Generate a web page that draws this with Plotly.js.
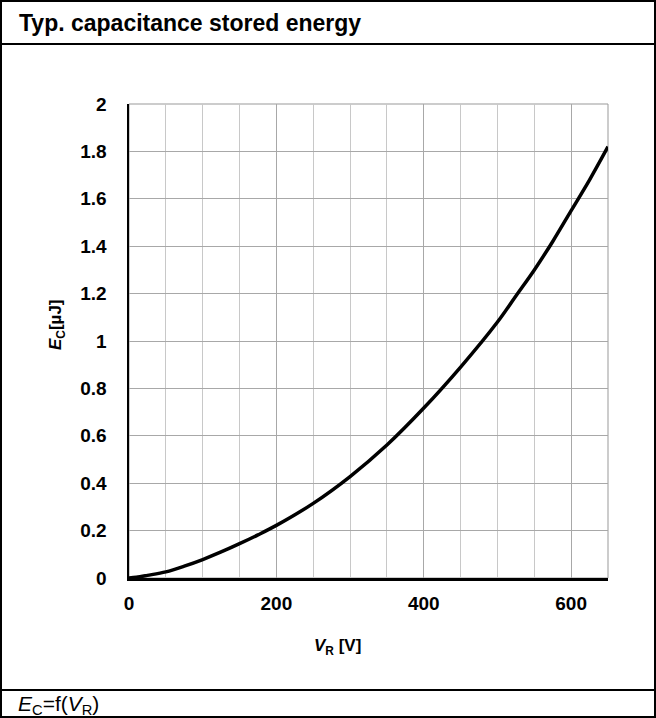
<!DOCTYPE html>
<html>
<head>
<meta charset="utf-8">
<script src="https://cdn.plot.ly/plotly-3.0.1.min.js"></script>
<style>html,body{margin:0;padding:0;background:#fff;}#chart{width:656px;height:718px;}</style>
</head>
<body>
<div id="chart"></div>
<script>
// Data
const voltageV = [0, 10, 25, 50, 75, 100, 125, 150, 175, 200, 250, 300, 350, 400, 450, 500, 525, 550, 575, 600, 625, 650];
const energyUJ = [0, 0.003, 0.011, 0.026, 0.05, 0.078, 0.11, 0.145, 0.182, 0.222, 0.315, 0.428, 0.561, 0.717, 0.89, 1.08, 1.19, 1.30, 1.42, 1.55, 1.68, 1.82];
const xTickVals = [0, 200, 400, 600];
const xTickText = ['0', '200', '400', '600'];
const yTickVals = [0, 0.2, 0.4, 0.6, 0.8, 1, 1.2, 1.4, 1.6, 1.8, 2];
const yTickText = ['0', '0.2', '0.4', '0.6', '0.8', '1', '1.2', '1.4', '1.6', '1.8', '2'];
const chartTitle = 'Typ. capacitance stored energy';
const xTitle = '<b><i>V</i><sub>R</sub> [V]</b>';
const yTitle = '<b><i>E</i><sub>C</sub>[µJ]</b>';
const caption = '<i>E</i><sub>C</sub>=f(<i>V</i><sub>R</sub>)';

const W = 656, H = 718;
const L = 129, R = 608, T = 104, B = 578;
const pw = R - L, ph = B - T;
const px = v => (v - L) / pw;
const py = v => (B - v) / ph;
const FONT = 'Liberation Sans, Arial, Helvetica, sans-serif';

const trace = {
  x: voltageV, y: energyUJ, type: 'scatter', mode: 'lines',
  line: {color: '#000', width: 3.5, shape: 'spline', smoothing: 1},
  hoverinfo: 'skip', cliponaxis: false
};

const layout = {
  width: W, height: H,
  margin: {l: L, r: W - R, t: T, b: H - B, pad: 0},
  paper_bgcolor: '#fff', plot_bgcolor: '#fff',
  showlegend: false,
  font: {family: FONT, color: '#000'},
  xaxis: {
    range: [0, 650], tickvals: xTickVals, ticktext: xTickText,
    showgrid: true, gridcolor: '#a8a8a8', gridwidth: 1,
    minor: {dtick: 50, tick0: 0, showgrid: true, gridcolor: '#c8c8c8', gridwidth: 1},
    showline: true, linecolor: '#000', linewidth: 2.5, zeroline: false,
    ticks: '', ticklabelstandoff: 7,
    tickfont: {family: FONT, size: 19, weight: 'bold', color: '#000'},
    fixedrange: true
  },
  yaxis: {
    range: [0, 2], tickvals: yTickVals, ticktext: yTickText,
    showgrid: true, gridcolor: '#a8a8a8', gridwidth: 1,
    showline: true, linecolor: '#000', linewidth: 2.5, zeroline: false,
    ticks: '', ticklabelstandoff: 16,
    tickfont: {family: FONT, size: 19, weight: 'bold', color: '#000'},
    fixedrange: true
  },
  shapes: [
    {type: 'rect', xref: 'paper', yref: 'paper', x0: 0, x1: 1, y0: 0, y1: 1,
     line: {color: '#999', width: 1}, layer: 'below'},
    {type: 'rect', xref: 'paper', yref: 'paper', x0: px(1), x1: px(655), y0: py(1), y1: py(717),
     line: {color: '#000', width: 2}},
    {type: 'line', xref: 'paper', yref: 'paper', x0: px(1), x1: px(655), y0: py(44), y1: py(44),
     line: {color: '#000', width: 2}},
    {type: 'line', xref: 'paper', yref: 'paper', x0: px(1), x1: px(655), y0: py(690), y1: py(690),
     line: {color: '#000', width: 2}}
  ],
  annotations: [
    {text: '<b>' + chartTitle + '</b>', xref: 'paper', yref: 'paper', x: px(17), y: py(23),
     xanchor: 'left', yanchor: 'middle', showarrow: false,
     font: {family: FONT, size: 23, color: '#000'}},
    {text: xTitle, xref: 'paper', yref: 'paper', x: px(337), y: py(647),
     xanchor: 'center', yanchor: 'middle', showarrow: false,
     font: {family: FONT, size: 17, color: '#000'}},
    {text: yTitle, xref: 'paper', yref: 'paper', x: px(57), y: py(325),
     xanchor: 'center', yanchor: 'middle', textangle: -90, showarrow: false,
     font: {family: FONT, size: 17, color: '#000'}},
    {text: caption, xref: 'paper', yref: 'paper', x: px(16), y: py(705),
     xanchor: 'left', yanchor: 'middle', showarrow: false,
     font: {family: FONT, size: 21, color: '#000'}}
  ]
};

Plotly.newPlot('chart', [trace], layout, {displayModeBar: false, staticPlot: true});
</script>
</body>
</html>
